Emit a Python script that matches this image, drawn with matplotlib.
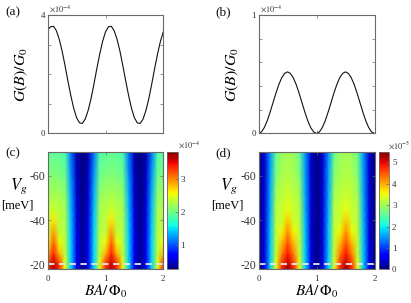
import numpy as np
import matplotlib
matplotlib.use("Agg")
import matplotlib.pyplot as plt

plt.rcParams['font.family'] = ['Liberation Serif', 'DejaVu Serif']
plt.rcParams['mathtext.fontset'] = 'stix'
plt.rcParams['axes.unicode_minus'] = False

# ---------------- data ----------------
# line cuts (units of 1e-4 G0), x = BA/Phi0
x_line = [0.00, 0.05, 0.10, 0.15, 0.20, 0.25, 0.30, 0.35, 0.40, 0.45,
          0.50, 0.55, 0.60, 0.65, 0.70, 0.75, 0.80, 0.85, 0.90, 0.95,
          1.00, 1.05, 1.10, 1.15, 1.20, 1.25, 1.30, 1.35, 1.40, 1.45,
          1.50, 1.55, 1.60, 1.65, 1.70, 1.75, 1.80, 1.85, 1.90, 1.95, 2.00]
g_a = [3.50, 3.60, 3.62, 3.47, 3.18, 2.78, 2.29, 1.77, 1.28, 0.85,
       0.53, 0.36, 0.34, 0.49, 0.78, 1.18, 1.67, 2.19, 2.68, 3.11,
       3.43, 3.60, 3.62, 3.47, 3.18, 2.78, 2.29, 1.77, 1.28, 0.85,
       0.53, 0.36, 0.34, 0.49, 0.78, 1.18, 1.67, 2.19, 2.68, 3.11, 3.43]
g_b = [0.000, 0.013, 0.050, 0.107, 0.180, 0.260, 0.340, 0.413, 0.470, 0.507,
       0.520, 0.507, 0.470, 0.413, 0.340, 0.260, 0.180, 0.107, 0.050, 0.013,
       0.000, 0.013, 0.050, 0.107, 0.180, 0.260, 0.340, 0.413, 0.470, 0.507,
       0.520, 0.507, 0.470, 0.413, 0.340, 0.260, 0.180, 0.107, 0.050, 0.013, 0.000]

# maps
x_map = [0.0, 0.1, 0.2, 0.3, 0.4, 0.5, 0.6, 0.7, 0.8, 0.9, 1.0,
         1.1, 1.2, 1.3, 1.4, 1.5, 1.6, 1.7, 1.8, 1.9, 2.0]
v_rows = [-17.7, -20, -25, -30, -35, -40, -45, -52, -60, -71]

# panel (c), units 1e-4
map_c = [
    [3.34, 3.66, 3.34, 2.50, 1.45, 0.61, 0.30, 0.61, 1.45, 2.50, 3.34, 3.66, 3.34, 2.50, 1.45, 0.61, 0.30, 0.61, 1.45, 2.50, 3.34],
    [3.32, 3.63, 3.32, 2.49, 1.45, 0.62, 0.31, 0.62, 1.45, 2.49, 3.32, 3.63, 3.32, 2.49, 1.45, 0.62, 0.31, 0.62, 1.45, 2.49, 3.32],
    [2.80, 3.38, 2.80, 2.32, 1.45, 0.61, 0.30, 0.61, 1.45, 2.32, 2.80, 3.38, 2.80, 2.32, 1.45, 0.61, 0.30, 0.61, 1.45, 2.32, 2.80],
    [2.55, 3.13, 2.55, 2.30, 1.44, 0.60, 0.30, 0.60, 1.44, 2.30, 2.55, 3.13, 2.55, 2.30, 1.44, 0.60, 0.30, 0.60, 1.44, 2.30, 2.55],
    [2.32, 2.88, 2.32, 2.28, 1.42, 0.58, 0.29, 0.58, 1.42, 2.28, 2.32, 2.88, 2.32, 2.28, 1.42, 0.58, 0.29, 0.58, 1.42, 2.28, 2.32],
    [2.30, 2.63, 2.30, 2.25, 1.40, 0.56, 0.29, 0.56, 1.40, 2.25, 2.30, 2.63, 2.30, 2.25, 1.40, 0.56, 0.29, 0.56, 1.40, 2.25, 2.30],
    [2.30, 2.38, 2.30, 2.22, 1.36, 0.54, 0.28, 0.54, 1.36, 2.22, 2.30, 2.38, 2.30, 2.22, 1.36, 0.54, 0.28, 0.54, 1.36, 2.22, 2.30],
    [2.20, 2.22, 2.20, 2.12, 1.30, 0.50, 0.27, 0.50, 1.30, 2.12, 2.20, 2.22, 2.20, 2.12, 1.30, 0.50, 0.27, 0.50, 1.30, 2.12, 2.20],
    [2.05, 2.07, 2.05, 1.98, 1.22, 0.46, 0.26, 0.46, 1.22, 1.98, 2.05, 2.07, 2.05, 1.98, 1.22, 0.46, 0.26, 0.46, 1.22, 1.98, 2.05],
    [1.90, 1.92, 1.90, 1.82, 1.10, 0.40, 0.25, 0.40, 1.10, 1.82, 1.90, 1.92, 1.90, 1.82, 1.10, 0.40, 0.25, 0.40, 1.10, 1.82, 1.90],
]
# panel (d), units 1e-5
map_d = [
    [0.00, 0.50, 1.80, 3.45, 4.85, 5.45, 4.85, 3.45, 1.80, 0.50, 0.00, 0.50, 1.80, 3.45, 4.85, 5.45, 4.85, 3.45, 1.80, 0.50, 0.00],
    [0.00, 0.50, 1.80, 3.40, 4.70, 5.20, 4.70, 3.40, 1.80, 0.50, 0.00, 0.50, 1.80, 3.40, 4.70, 5.20, 4.70, 3.40, 1.80, 0.50, 0.00],
    [0.00, 0.48, 1.78, 3.25, 4.25, 4.86, 4.25, 3.25, 1.78, 0.48, 0.00, 0.48, 1.78, 3.25, 4.25, 4.86, 4.25, 3.25, 1.78, 0.48, 0.00],
    [0.00, 0.47, 1.75, 3.22, 3.91, 4.51, 3.91, 3.22, 1.75, 0.47, 0.00, 0.47, 1.75, 3.22, 3.91, 4.51, 3.91, 3.22, 1.75, 0.47, 0.00],
    [0.01, 0.45, 1.72, 3.18, 3.56, 4.16, 3.56, 3.18, 1.72, 0.45, 0.01, 0.45, 1.72, 3.18, 3.56, 4.16, 3.56, 3.18, 1.72, 0.45, 0.01],
    [0.01, 0.44, 1.68, 3.15, 3.28, 3.82, 3.28, 3.15, 1.68, 0.44, 0.01, 0.44, 1.68, 3.15, 3.28, 3.82, 3.28, 3.15, 1.68, 0.44, 0.01],
    [0.02, 0.43, 1.65, 3.12, 3.25, 3.47, 3.25, 3.12, 1.65, 0.43, 0.02, 0.43, 1.65, 3.12, 3.25, 3.47, 3.25, 3.12, 1.65, 0.43, 0.02],
    [0.02, 0.41, 1.60, 3.00, 3.18, 3.25, 3.18, 3.00, 1.60, 0.41, 0.02, 0.41, 1.60, 3.00, 3.18, 3.25, 3.18, 3.00, 1.60, 0.41, 0.02],
    [0.03, 0.40, 1.55, 2.80, 3.06, 3.12, 3.06, 2.80, 1.55, 0.40, 0.03, 0.40, 1.55, 2.80, 3.06, 3.12, 3.06, 2.80, 1.55, 0.40, 0.03],
    [0.04, 0.38, 1.50, 2.60, 2.95, 3.00, 2.95, 2.60, 1.50, 0.38, 0.04, 0.38, 1.50, 2.60, 2.95, 3.00, 2.95, 2.60, 1.50, 0.38, 0.04],
]
cut_v = -20
clim_c = (0.25, 3.83)
clim_d = (0.0, 5.5)

# ---------------- figure ----------------
W, H = 411, 303
fig = plt.figure(figsize=(W / 100, H / 100), dpi=100)

def ax_px(l, t, r, b):
    return fig.add_axes([l / W, 1 - b / H, (r - l) / W, (b - t) / H])

spine_c = '#6a6a6a'
tick_c = '#333333'

def style(ax, ls=6.5):
    for s in ax.spines.values():
        s.set_color(spine_c)
        s.set_linewidth(0.8)
    ax.tick_params(direction='in', length=2.5, width=0.5, colors=spine_c,
                   labelcolor=tick_c, labelsize=ls, top=True, right=True, pad=2)

ax_a = ax_px(47.7, 15, 163.3, 133.5)
ax_b = ax_px(258.5, 15, 374.5, 133.5)
ax_c = ax_px(47.7, 151.7, 163.3, 269.3)
ax_d = ax_px(258.7, 151.7, 375.0, 269.3)
cax_c = ax_px(167.3, 151.7, 177.7, 269.3)
cax_d = ax_px(379.3, 151.7, 389.3, 269.3)

# (a)
ax_a.plot(x_line, g_a, color='#111111', lw=0.8)
ax_a.set_xlim(0, 2)
ax_a.set_ylim(0, 4)
ax_a.set_xticks([0, 1, 2])
ax_a.set_xticklabels([])
ax_a.set_yticks([0, 1, 2, 3, 4])
ax_a.set_yticklabels(['0', '', '', '', '4'])
style(ax_a)

# (b)
ax_b.plot(x_line, g_b, color='#111111', lw=0.8)
ax_b.set_xlim(0, 2)
ax_b.set_ylim(0, 1)
ax_b.set_xticks([0, 1, 2])
ax_b.set_xticklabels([])
ax_b.set_yticks([0, 0.2, 0.4, 0.6, 0.8, 1.0])
ax_b.set_yticklabels(['0', '', '', '', '', '1'])
style(ax_b)

for ax in (ax_a, ax_b):
    ax.set_ylabel(r'$G(B)/G_0$', fontsize=11.5, labelpad=4)
    ax.yaxis.set_label_coords(-0.15, 0.5)

# maps
for ax, cax, data, clim, cticks in (
        (ax_c, cax_c, map_c, clim_c, [1, 2, 3]),
        (ax_d, cax_d, map_d, clim_d, [0, 1, 2, 3, 4, 5])):
    m = ax.pcolormesh(x_map, v_rows, np.array(data), shading='gouraud',
                      cmap='jet', vmin=clim[0], vmax=clim[1], rasterized=True)
    ax.axhline(cut_v, color='#e8e8e8', lw=1.3, ls=(0, (3.5, 2.5)))
    ax.set_xlim(0, 2)
    ax.set_ylim(-17.7, -71)
    ax.set_xticks([0, 1, 2])
    ax.set_yticks([-20, -40, -60])
    style(ax, ls=6.5)
    ax.tick_params(axis='x', pad=4)
    ax.tick_params(axis='y', labelsize=8.5)
    ax.set_xlabel(r'$BA/\,\Phi_0$', fontsize=11)
    ax.xaxis.set_label_coords(0.5, -0.115)
    cb = fig.colorbar(m, cax=cax)
    cb.set_ticks(cticks)
    cb.outline.set_edgecolor(spine_c)
    cb.outline.set_linewidth(0.6)
    cax.tick_params(direction='in', length=2, width=0.5, colors=spine_c,
                    labelcolor=tick_c, labelsize=6.5, pad=2)

# scale labels
fig.text(49 / W, 1 - 9 / H, r'$\times10^{-4}$', fontsize=6, color=tick_c, va='center', ha='left')
fig.text(260 / W, 1 - 9 / H, r'$\times10^{-4}$', fontsize=6, color=tick_c, va='center', ha='left')
fig.text(178 / W, 1 - 145 / H, r'$\times10^{-4}$', fontsize=6, color=tick_c, va='center', ha='left')
fig.text(388 / W, 1 - 145 / H, r'$\times10^{-5}$', fontsize=6, color=tick_c, va='center', ha='left')

# panel letters
for txt, xx, yy in (('(a)', 5, 12), ('(b)', 215, 12), ('(c)', 5, 153), ('(d)', 215, 153)):
    fig.text(xx / W, 1 - yy / H, txt, fontsize=9.5, va='center', ha='left', color='#111111')

# Vg labels
for xx in (19, 229):
    fig.text(xx / W, 1 - 186 / H, r'$V_g$', fontsize=12, va='center', ha='center')
    fig.text((xx - 2) / W, 1 - 205 / H, '[meV]', fontsize=9, va='center', ha='center')

fig.savefig('out.png', dpi=100)
